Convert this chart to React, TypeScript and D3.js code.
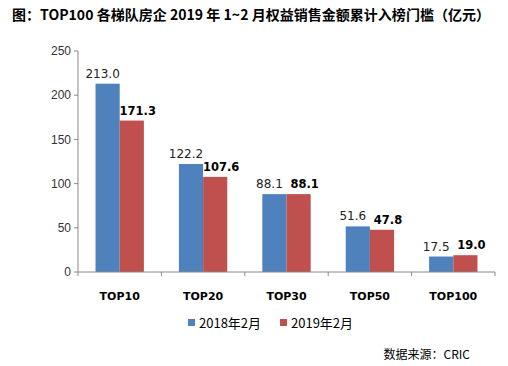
import React from 'react';
import * as d3 from 'd3';

const categories = ['TOP10', 'TOP20', 'TOP30', 'TOP50', 'TOP100'];
const values2018 = [213.0, 122.2, 88.1, 51.6, 17.5];
const values2019 = [171.3, 107.6, 88.1, 47.8, 19.0];
const yTicks = [0, 50, 100, 150, 200, 250];
const seriesNames = ['2018年2月', '2019年2月'];

const BLUE = '#4F81BD';
const RED = '#C0504D';
const FONT = '"Noto Sans CJK SC", "Noto Sans", sans-serif';
const NUM_FONT = '"DejaVu Sans", sans-serif';

const W = 508;
const H = 366;
const left = 78;
const right = 495;
const top = 51;
const bottom = 272;

const App: React.FC = () => {
  const x = d3.scaleBand<string>().domain(categories).range([left, right]).paddingInner(0.42).paddingOuter(0.21);
  const y = d3.scaleLinear().domain([0, 250]).range([bottom, top]);
  const bw = x.bandwidth() / 2;
  const edges = d3.range(categories.length + 1).map(i => left + (i * (right - left)) / categories.length);

  return (
    <svg width={W} height={H} style={{ position: 'absolute', left: 0, top: 0 }} fontFamily={FONT}>
      <rect width={W} height={H} fill="#fff" />
      <text x={12} y={20} fontSize={14} textLength={478} lengthAdjust="spacing" fontWeight="bold" fill="#000">
        图：TOP100 各梯队房企 2019 年 1~2 月权益销售金额累计入榜门槛（亿元）
      </text>

      {/* y axis */}
      <line x1={left} x2={left} y1={top} y2={bottom} stroke="#888" />
      {yTicks.map(t => (
        <g key={t}>
          <line x1={left - 4} x2={left} y1={y(t)} y2={y(t)} stroke="#888" />
          <text x={left - 7} y={y(t)} dy="0.35em" textAnchor="end" fontSize={12} fontFamily='"Liberation Sans", sans-serif' fill="#333">
            {t}
          </text>
        </g>
      ))}

      {/* bars */}
      {categories.map((c, i) => {
        const x0 = x(c) || 0;
        return (
          <g key={c}>
            <rect x={x0} y={y(values2018[i])} width={bw} height={bottom - y(values2018[i])} fill={BLUE} />
            <rect x={x0 + bw} y={y(values2019[i])} width={bw} height={bottom - y(values2019[i])} fill={RED} />
            <text x={x0 + bw / 2 - 5} y={y(values2018[i]) - 6} textAnchor="middle" fontSize={12} fontFamily={NUM_FONT} fill="#222">
              {values2018[i].toFixed(1)}
            </text>
            <text x={x0 + bw * 1.5 + 6} y={y(values2019[i]) - 6} textAnchor="middle" fontSize={11.5} fontFamily={NUM_FONT} fontWeight="bold" fill="#000">
              {values2019[i].toFixed(1)}
            </text>
            <text x={x0 + bw} y={300} textAnchor="middle" fontSize={11} fontFamily={NUM_FONT} fontWeight="bold" fill="#000">
              {c}
            </text>
          </g>
        );
      })}

      {/* x axis */}
      <line x1={left} x2={right} y1={bottom} y2={bottom} stroke="#888" />
      {edges.map((e, i) => (
        <line key={i} x1={e} x2={e} y1={bottom} y2={bottom + 4} stroke="#888" />
      ))}

      {/* legend */}
      {seriesNames.map((s, i) => {
        const lx = 188 + i * 92;
        return (
          <g key={s}>
            <rect x={lx} y={319} width={7} height={7} fill={i === 0 ? BLUE : RED} />
            <text x={lx + 11} y={328} fontSize={13} fill="#000">
              {s}
            </text>
          </g>
        );
      })}

      <text x={470} y={359} textAnchor="end" fontSize={12} fill="#000">
        数据来源：CRIC
      </text>
    </svg>
  );
};

export default App;
